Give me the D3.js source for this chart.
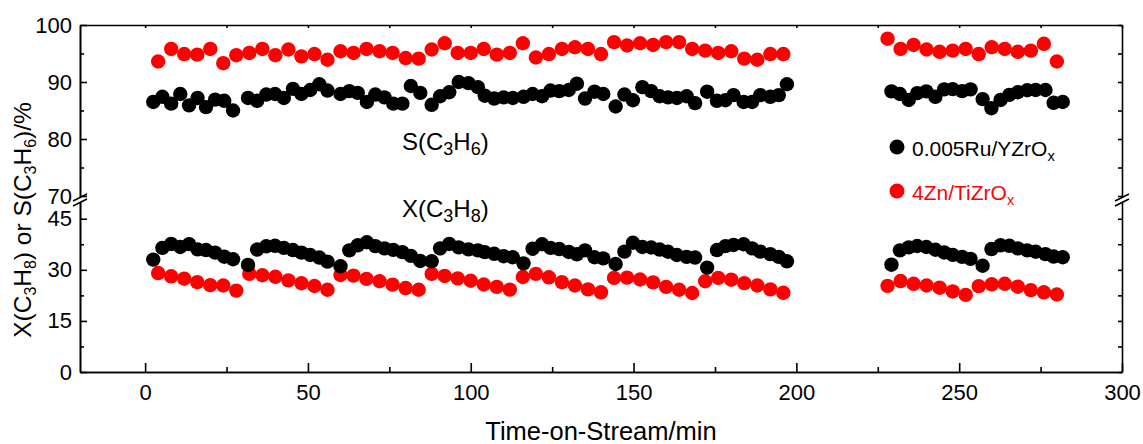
<!DOCTYPE html>
<html>
<head>
<meta charset="utf-8">
<script src="https://cdn.jsdelivr.net/npm/d3@7"></script>
<style>
  body { margin: 0; background: #fff; }
  text { font-family: "Liberation Sans", Arial, sans-serif; }
</style>
</head>
<body>
<script>
// black = 0.005Ru/YZrOx, red = 4Zn/TiZrOx
var blackTime = [
  2.5, 5.3, 8.0, 10.8, 13.5, 16.1, 18.7, 21.5, 24.3, 27.0,
  31.6, 34.4, 37.2, 39.9, 42.6, 45.4, 48.0, 50.7, 53.5, 56.0,
  60.0, 62.7, 65.3, 68.1, 70.7, 73.5, 76.2, 79.0, 81.6, 84.5,
  88.0, 90.6, 93.4, 96.3, 99.3, 102.2, 104.3, 107.2, 110.1, 112.9,
  116.2, 119.0, 121.9, 124.5, 127.2, 130.1, 132.6, 135.1, 138.0, 140.7,
  144.5, 147.2, 149.8, 152.7, 155.4, 158.0, 160.6, 163.3, 166.3, 168.9,
  172.6, 175.6, 178.2, 180.7, 183.8, 186.4, 188.9, 192.0, 194.6, 197.1,
  229.2, 231.8, 234.5, 237.1, 239.9, 242.7, 245.4, 248.0, 250.9, 253.5,
  257.2, 259.9, 262.7, 265.4, 268.0, 270.9, 273.5, 276.5, 279.0, 281.8
];
var blackS = [
  86.5, 87.4, 86.2, 87.9, 85.9, 87.2, 85.6, 86.9, 86.7, 85.0,
  87.2, 86.7, 87.8, 87.9, 87.2, 88.8, 87.9, 88.6, 89.6, 88.5,
  87.9, 88.4, 88.1, 86.5, 87.8, 87.3, 86.2, 86.2, 89.3, 88.1,
  86.0, 87.5, 88.2, 90.0, 89.8, 89.1, 87.6, 87.1, 87.3, 87.2,
  87.4, 87.9, 87.5, 88.5, 88.4, 88.6, 89.7, 87.1, 88.3, 87.9,
  85.7, 87.8, 86.8, 89.1, 88.4, 87.5, 87.3, 87.2, 87.5, 86.3,
  88.3, 86.7, 86.8, 87.7, 86.5, 86.5, 87.7, 87.4, 87.7, 89.6,
  88.35, 87.9, 86.85, 88.05, 88.35, 87.4, 88.7, 88.75, 88.4, 88.7,
  87.0, 85.4, 86.85, 87.75, 88.2, 88.55, 88.6, 88.6, 86.35, 86.5
];
var blackX = [
  33.0, 36.45, 37.6, 36.7, 37.55, 36.0, 35.8, 35.05, 33.85, 33.1,
  31.45, 35.95, 36.9, 37.05, 36.45, 35.8, 35.05, 34.35, 33.6, 32.4,
  31.05, 35.7, 37.2, 38.1, 36.95, 36.3, 35.85, 35.2, 34.1, 32.6,
  32.5, 36.3, 37.6, 36.6, 36.0, 35.7, 35.2, 34.7, 34.0, 33.7,
  31.9, 36.2, 37.5, 36.45, 36.1, 35.25, 34.55, 35.7, 33.7, 33.35,
  31.7, 35.35, 37.95, 36.7, 36.55, 35.95, 35.3, 34.35, 33.8, 33.6,
  30.65, 35.8, 36.95, 37.3, 37.5, 36.3, 35.35, 34.6, 33.8, 32.5,
  31.5, 35.7, 36.6, 37.0, 36.7, 35.9, 35.1, 34.4, 33.8, 33.2,
  31.2, 36.1, 37.2, 37.05, 36.3, 35.7, 35.3, 34.6, 33.9, 33.7
];
var redTime = [
  4, 8, 12, 16, 20, 24, 28, 32, 36, 40, 44, 48, 52, 56, 60, 64, 68, 72, 76, 80,
  84, 88, 92, 96, 100, 104, 108, 112, 116, 120, 124, 128, 132, 136, 140, 144,
  148, 152, 156, 160, 164, 168, 172, 176, 180, 184, 188, 192, 196,
  228, 232, 236, 240, 244, 248, 252, 256, 260, 264, 268, 272, 276, 280
];
var redS = [
  93.6, 95.8, 94.9, 94.8, 95.8, 93.3, 94.7, 95.1, 95.8, 94.7, 95.7, 94.5, 94.9, 93.9,
  95.4, 95.1, 95.8, 95.4, 95.1, 94.2, 94.1, 95.7, 96.8, 95.1, 95.1, 95.8, 94.8, 95.1,
  96.8, 94.3, 94.9, 95.8, 96.1, 95.8, 94.9, 97.0, 96.4, 96.8, 96.5, 97.0, 97.0, 95.8,
  95.5, 95.1, 95.4, 94.1, 93.9, 94.9, 94.9,
  97.6, 95.8, 96.5, 95.7, 95.3, 95.5, 95.8, 94.9, 96.1, 95.8, 95.3, 95.5, 96.7, 93.6
];
var redX = [
  29.05, 28.1, 27.4, 26.4, 25.5, 25.4, 23.9,
  28.8, 28.4, 27.95, 26.9, 26.05, 25.25, 24.15,
  28.5, 28.3, 27.35, 26.65, 25.65, 24.65, 24.15,
  28.8, 28.2, 27.5, 26.8, 25.7, 25.0, 24.2,
  27.9, 28.8, 27.8, 26.4, 25.4, 24.25, 23.4,
  27.65, 27.7, 27.15, 26.3, 25.0, 24.15, 23.2,
  26.65, 27.65, 27.1, 26.1, 25.4, 24.25, 23.25,
  25.3, 26.7, 25.9, 25.4, 24.75, 23.65, 22.65, 25.2, 25.75, 25.9, 25.05, 24.05, 23.4, 22.75
];

var xTicks = [0, 50, 100, 150, 200, 250, 300];
var xMinor = [25, 75, 125, 175, 225, 275];
var yLowTicks = [0, 15, 30, 45];
var yLowMinor = [7.5, 22.5, 37.5];
var yHighTicks = [70, 80, 90, 100];
var yHighMinor = [75, 85, 95];
var seriesNames = ["0.005Ru/YZrO", "4Zn/TiZrO"];
var seriesColors = ["#000000", "#ff0000"];

(function() {
    var width = 1143, height = 444;
    var left = 80, right = 1122, top = 25, bottom = 372, brk = 200;
    var fs = 22;

    var svg = d3.select('body').append('svg')
        .attr('width', width)
        .attr('height', height);

    var x = d3.scaleLinear().domain([-20, 300]).range([left, right]);
    var yLow = d3.scaleLinear().domain([0, 50.5]).range([bottom, brk]);
    var yHigh = d3.scaleLinear().domain([69.3, 100]).range([brk, top]);

    function styleAxis(g) {
        g.selectAll('path, line').attr('stroke', '#000').attr('stroke-width', 1.6);
        g.selectAll('text').attr('font-size', fs).attr('fill', '#000')
            .style('font-family', '"Liberation Sans", Arial, sans-serif');
    }

    // bottom axis
    svg.append('g').attr('transform', 'translate(0,' + bottom + ')')
        .call(d3.axisBottom(x).tickValues(xTicks).tickSize(-9).tickSizeOuter(0).tickPadding(12))
        .call(styleAxis);
    svg.append('g').attr('transform', 'translate(0,' + bottom + ')')
        .call(d3.axisBottom(x).tickValues(xMinor).tickSize(-5).tickSizeOuter(0).tickFormat(''))
        .call(styleAxis);
    // top axis
    svg.append('g').attr('transform', 'translate(0,' + top + ')')
        .call(d3.axisTop(x).tickValues(xTicks.concat(xMinor)).tickSize(-3).tickSizeOuter(0).tickFormat(''))
        .call(styleAxis);

    // left axis, two segments
    [[yLow, yLowTicks, yLowMinor], [yHigh, yHighTicks, yHighMinor]].forEach(function(s) {
        svg.append('g').attr('transform', 'translate(' + left + ',0)')
            .call(d3.axisLeft(s[0]).tickValues(s[1]).tickSize(-7).tickSizeOuter(0).tickPadding(8))
            .call(styleAxis);
        svg.append('g').attr('transform', 'translate(' + left + ',0)')
            .call(d3.axisLeft(s[0]).tickValues(s[2]).tickSize(-4).tickSizeOuter(0).tickFormat(''))
            .call(styleAxis);
        svg.append('g').attr('transform', 'translate(' + right + ',0)')
            .call(d3.axisRight(s[0]).tickValues(s[1].concat(s[2])).tickSize(-4).tickSizeOuter(0).tickFormat(''))
            .call(styleAxis);
    });

    // axis break marks
    [left, right].forEach(function(ax) {
        svg.append('rect').attr('x', ax - 3).attr('y', brk - 2.5).attr('width', 6).attr('height', 5).attr('fill', '#fff');
        [-2.5, 2.5].forEach(function(off) {
            svg.append('line')
                .attr('x1', ax - 7).attr('y1', brk + off + 3.5)
                .attr('x2', ax + 7).attr('y2', brk + off - 3.5)
                .attr('stroke', '#000').attr('stroke-width', 1.6);
        });
    });

    // markers: red first, black on top
    var r = 7.2;
    function dots(times, vals, scale, color) {
        svg.append('g').selectAll('circle')
            .data(times.map(function(t, i) { return [t, vals[i]]; }))
            .enter().append('circle')
            .attr('cx', function(d) { return x(d[0]); })
            .attr('cy', function(d) { return scale(d[1]); })
            .attr('r', r)
            .attr('fill', color);
    }
    dots(redTime, redS, yHigh, seriesColors[1]);
    dots(redTime, redX, yLow, seriesColors[1]);
    dots(blackTime, blackS, yHigh, seriesColors[0]);
    dots(blackTime, blackX, yLow, seriesColors[0]);

    // text with subscripts
    function rich(sel, parts, size, sub) {
        var shift = 0;
        sub = sub || 0.65;
        parts.forEach(function(p) {
            var want = p[1] ? size * 0.22 : 0;
            var t = sel.append('tspan').text(p[0]).attr('dy', want - shift);
            if (p[1]) t.attr('font-size', size * sub);
            shift = want;
        });
    }

    var afs = 24;
    var sLabel = svg.append('text').attr('x', 402).attr('y', 150).attr('font-size', afs);
    rich(sLabel, [['S(C', 0], ['3', 1], ['H', 0], ['6', 1], [')', 0]], afs, 0.75);
    var xLabel = svg.append('text').attr('x', 402).attr('y', 217).attr('font-size', afs);
    rich(xLabel, [['X(C', 0], ['3', 1], ['H', 0], ['8', 1], [')', 0]], afs, 0.75);

    // legend
    seriesNames.forEach(function(name, i) {
        var ly = [147, 191][i];
        svg.append('circle').attr('cx', 897).attr('cy', ly).attr('r', 7.5).attr('fill', seriesColors[i]);
        var t = svg.append('text').attr('x', 912).attr('y', ly + 9).attr('font-size', 21).attr('fill', seriesColors[i]);
        rich(t, [[name, 0], ['x', 1]], 21, 0.7);
    });

    // axis titles
    var tfs = 24.5;
    svg.append('text').attr('x', 601).attr('y', 440).attr('text-anchor', 'middle')
        .attr('font-size', 25.5).text('Time-on-Stream/min');
    var yt = svg.append('text').attr('text-anchor', 'middle').attr('font-size', tfs)
        .attr('transform', 'translate(30.5,220) rotate(-90)');
    rich(yt, [['X(C', 0], ['3', 1], ['H', 0], ['8', 1], [') or S(C', 0], ['3', 1], ['H', 0], ['6', 1], [')/%', 0]], tfs);
})();
</script>
</body>
</html>
